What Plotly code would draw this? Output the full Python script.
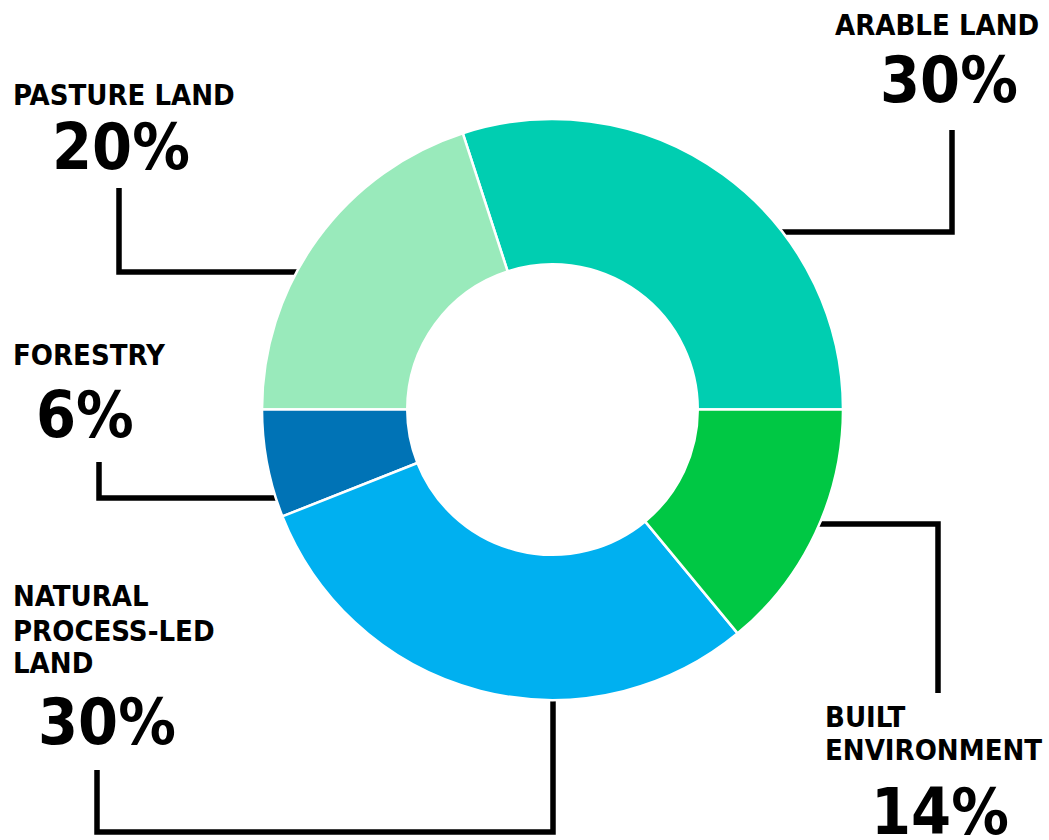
import math
import plotly.graph_objects as go

W, H = 1049, 840

categories = ["ARABLE LAND", "PASTURE LAND", "FORESTRY", "NATURAL PROCESS-LED LAND", "BUILT ENVIRONMENT"]
values = [30, 20, 6, 30, 14]
colors = ["#00CEB1", "#99EABB", "#0073B6", "#00B0F0", "#00C844"]
label_lines = [["ARABLE LAND"], ["PASTURE LAND"], ["FORESTRY"], ["NATURAL", "PROCESS-LED", "LAND"], ["BUILT", "ENVIRONMENT"]]

# pie geometry in pixels
CX, CY, R = 552.5, 409.5, 290.5
HOLE = 0.5

def px(x):
    return x / W

def py(y):
    return 1 - y / H

# first slice runs counter-clockwise from 3 o'clock
first_share = values[0] / sum(values)
rotation = 90 - 360 * first_share

fig = go.Figure(go.Pie(
    labels=categories,
    values=values,
    sort=False,
    direction="counterclockwise",
    rotation=rotation,
    hole=HOLE,
    marker=dict(colors=colors, line=dict(color="white", width=2.5)),
    textinfo="none",
    hoverinfo="label+percent",
    domain=dict(x=[px(CX - R), px(CX + R)], y=[py(CY + R), py(CY - R)]),
    showlegend=False,
))

FONT = "DejaVu Sans Condensed, DejaVu Sans, sans-serif"
NAME_SIZE = 29
PCT_SIZE = 64

def edge_x(y, side):
    dy = y - CY
    return CX + side * math.sqrt(max(R * R - dy * dy, 0)) - side * 4

def edge_y(x, side):
    dx = x - CX
    return CY + side * math.sqrt(max(R * R - dx * dx, 0)) - side * 4

# leader-line paths (pixels)
paths = [
    [(edge_x(232, 1), 232), (952, 232), (952, 130)],
    [(edge_x(272, -1), 272), (119, 272), (119, 188)],
    [(edge_x(498, -1), 498), (99, 498), (99, 462)],
    [(553, edge_y(553, 1)), (553, 832), (97, 832), (97, 770)],
    [(edge_x(524, 1), 524), (938, 524), (938, 693)],
]
shapes = []
for p in paths:
    d = "M " + " L ".join(f"{px(x)},{py(y)}" for x, y in p)
    shapes.append(dict(type="path", path=d, xref="paper", yref="paper",
                       line=dict(color="black", width=5.5), layer="below"))

# label layout: (x, anchor, [cap-centre y of each name line], pct x centre, pct cap-centre y)
label_pos = [
    (1041, "right", [24], 949, 79),
    (11, "left", [94], 121, 146),
    (11, "left", [354], 85, 414),
    (11, "left", [595, 630, 662], 107, 721),
    (823, "left", [716, 749], 940, 811),
]

annotations = []
for (lx, anchor, ys, pxc, pyc), lines, v in zip(label_pos, label_lines, values):
    for line, yy in zip(lines, ys):
        annotations.append(dict(
            x=px(lx), y=py(yy + 1), xref="paper", yref="paper",
            xanchor=anchor, yanchor="middle", showarrow=False,
            text=f"<b>{line}</b>",
            font=dict(family=FONT, size=NAME_SIZE, color="black"),
        ))
    annotations.append(dict(
        x=px(pxc), y=py(pyc + 1), xref="paper", yref="paper",
        xanchor="center", yanchor="middle", showarrow=False,
        text=f"<b>{v}%</b>",
        font=dict(family=FONT, size=PCT_SIZE, color="black"),
    ))

fig.update_layout(
    width=W, height=H,
    margin=dict(l=0, r=0, t=0, b=0),
    paper_bgcolor="white",
    plot_bgcolor="white",
    shapes=shapes,
    annotations=annotations,
)

fig.write_html("out.html")
